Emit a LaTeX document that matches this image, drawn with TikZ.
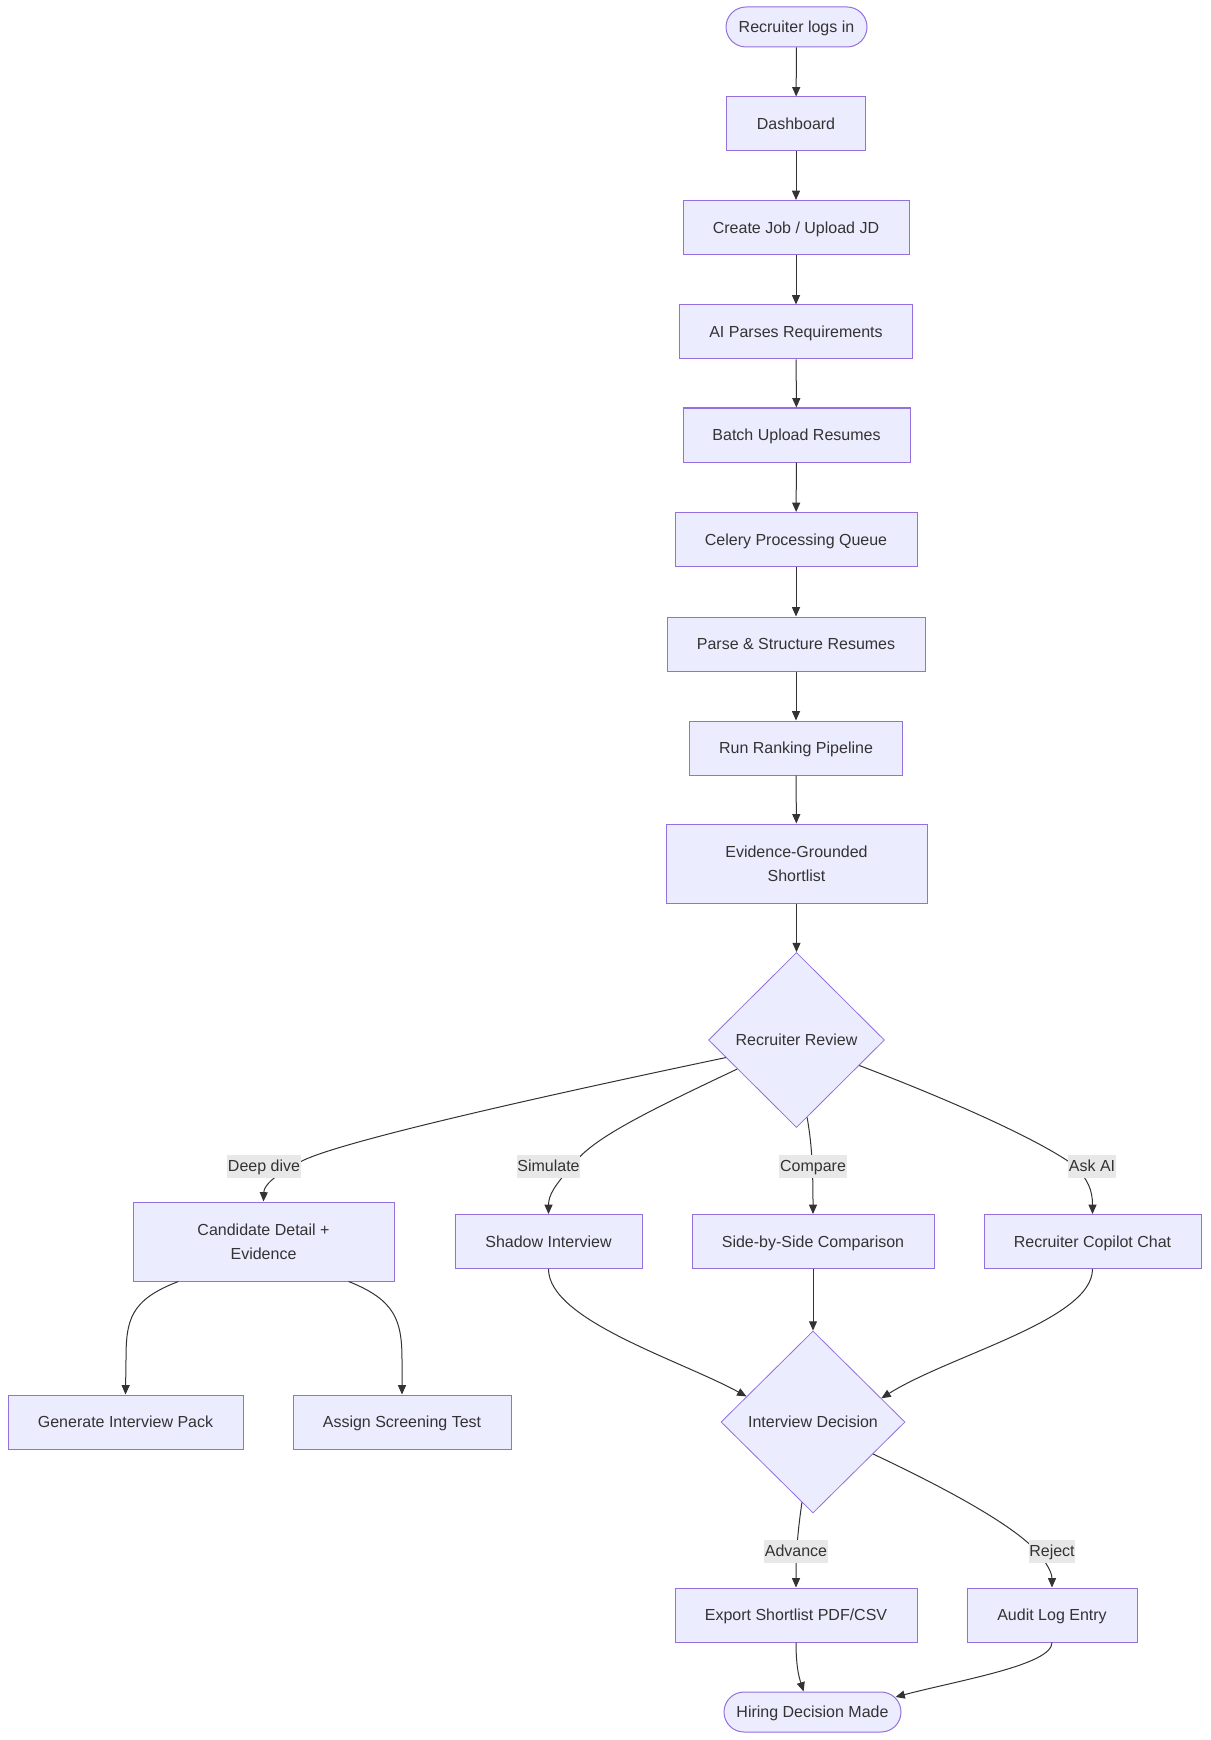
\documentclass[tikz,border=0pt]{standalone}
\usepackage{fontspec}
\setmainfont{Liberation Sans}
\usetikzlibrary{arrows.meta,shapes.geometric,calc}
\definecolor{nodefill}{HTML}{ECECFF}
\definecolor{nodeline}{HTML}{9370DB}
\definecolor{txt}{HTML}{333333}
\definecolor{lblbg}{HTML}{E8E8E8}
\begin{document}
\begin{tikzpicture}[x=0.75pt,y=-0.75pt,
  font=\fontsize{12pt}{18pt}\selectfont,
  basebox/.style={draw=nodeline,fill=nodefill,line width=0.75pt,text=txt,inner sep=0pt,align=center},
  oneline/.style={text height=8.8pt,text depth=0pt},
  box/.style={basebox,oneline,minimum height=40.5pt},
  tall/.style={basebox,minimum height=59.25pt},
  stadium/.style={box,rounded corners=15pt,minimum height=30pt},
  decision/.style={draw=nodeline,fill=nodefill,line width=0.6pt,text=txt,diamond,aspect=1,inner sep=0pt,align=center,oneline},
  arr/.style={draw=txt,line width=0.75pt,-{Triangle[length=7pt,width=6pt]}},
  lbl/.style={fill=lblbg,text=txt,inner xsep=0.5pt,inner ysep=0pt,oneline,minimum height=17.25pt}]
\useasboundingbox (0,0) rectangle (1210,1740);
\fill[white] (0,0) rectangle (1210,1740);
% main column
\node[stadium,minimum width=105.75pt] (login) at (796.5,27) {Recruiter logs in};
\node[box,minimum width=104.25pt] (dash) at (796,124) {Dashboard};
\node[box,minimum width=169.5pt] (create) at (796,227.5) {Create Job / Upload JD};
\node[box,minimum width=174.75pt] (aiparse) at (796,332) {AI Parses Requirements};
\node[box,minimum width=170.25pt] (batch) at (796.5,435) {Batch Upload Resumes};
\node[box,minimum width=181.5pt] (celery) at (796,539.5) {Celery Processing Queue};
\node[box,minimum width=193.5pt] (parse) at (796,644) {Parse \& Structure Resumes};
\node[box,minimum width=159.75pt] (rank) at (796,748) {Run Ranking Pipeline};
\node[tall,minimum width=195.75pt] (evid) at (796.5,863.5) {Evidence-Grounded\\Shortlist};
\node[decision,minimum width=132pt,minimum height=131.25pt] (rr) at (796.5,1040) {Recruiter Review};
% branches
\node[tall,minimum width=195.75pt] (cand) at (263.5,1241.5) {Candidate Detail +\\Evidence};
\node[box,minimum width=140.25pt] (shadow) at (548.5,1241.5) {Shadow Interview};
\node[box,minimum width=181.5pt] (side) at (813,1241.5) {Side-by-Side Comparison};
\node[box,minimum width=162.75pt] (copilot) at (1092.5,1241.5) {Recruiter Copilot Chat};
\node[box,minimum width=176.25pt] (genpack) at (125.5,1422) {Generate Interview Pack};
\node[box,minimum width=163.5pt] (assign) at (402,1422) {Assign Screening Test};
\node[decision,minimum width=138pt,minimum height=136.5pt] (idec) at (813,1422) {Interview Decision};
\node[box,minimum width=181.5pt] (export) at (796,1615) {Export Shortlist PDF/CSV};
\node[box,minimum width=127.5pt] (audit) at (1052,1615) {Audit Log Entry};
\node[stadium,minimum width=132.75pt] (hire) at (812.5,1712) {Hiring Decision Made};
% straight edges
\draw[arr] (login) -- (dash);
\draw[arr] (dash) -- (create);
\draw[arr] (create) -- (aiparse);
\draw[arr] (aiparse) -- (batch);
\draw[arr] (batch) -- (celery);
\draw[arr] (celery) -- (parse);
\draw[arr] (parse) -- (rank);
\draw[arr] (rank) -- (evid);
\draw[arr] (evid) -- (rr);
% review branches
\draw[arr] ($(rr.west)!0.2!(rr.south)$) .. controls (500,1105) and (330,1145) .. (300,1162) .. controls (275,1175) and (264,1185) .. (cand.north);
\draw[arr] ($(rr.west)!0.33!(rr.south)$) .. controls (640,1115) and (590,1140) .. (572,1166) .. controls (555,1185) and (548.5,1195) .. (shadow.north);
\draw[arr] ($(rr.south)!0.12!(rr.east)$) .. controls (811,1140) and (813,1160) .. (side.north);
\draw[arr] ($(rr.east)!0.29!(rr.south)$) .. controls (950,1100) and (1040,1140) .. (1075,1166) .. controls (1088,1180) and (1092.5,1190) .. (copilot.north);
% candidate detail
\draw[arr] ($(cand.south west)!0.175!(cand.south east)$) .. controls (130,1300) and (126,1320) .. (126,1360) -- (genpack.north);
\draw[arr] ($(cand.south west)!0.825!(cand.south east)$) .. controls (395,1300) and (402,1320) .. (402,1360) -- (assign.north);
% into interview decision
\draw[arr] (shadow.south) .. controls (548.5,1320) and (680,1360) .. ($(idec.west)!0.28!(idec.north)$);
\draw[arr] (side) -- (idec);
\draw[arr] (copilot.south) .. controls (1092.5,1320) and (950,1355) .. ($(idec.east)!0.26!(idec.north)$);
% decision outcomes
\draw[arr] ($(idec.south)!0.12!(idec.west)$) .. controls (798,1530) and (796,1550) .. (export.north);
\draw[arr] ($(idec.east)!0.35!(idec.south)$) .. controls (960,1495) and (1020,1530) .. (1040,1555) .. controls (1050,1568) and (1052,1575) .. (audit.north);
\draw[arr] (export.south) .. controls (796,1670) and (800,1680) .. ($(hire.north west)!0.45!(hire.north east)$);
\draw[arr] (audit.south) .. controls (1052,1665) and (960,1680) .. ($(hire.east)+(-6,-15)$);
% edge labels
\node[lbl] (ldeep) at (264,1166) {Deep dive};
\node[lbl] (lsim) at (548.5,1166) {Simulate};
\node[lbl] (lcmp) at (813,1166) {Compare};
\node[lbl] (lask) at (1092,1166) {Ask AI};
\node[lbl] (ladv) at (796,1551) {Advance};
\node[lbl] (lrej) at (1052,1551) {Reject};
\end{tikzpicture}
\end{document}
